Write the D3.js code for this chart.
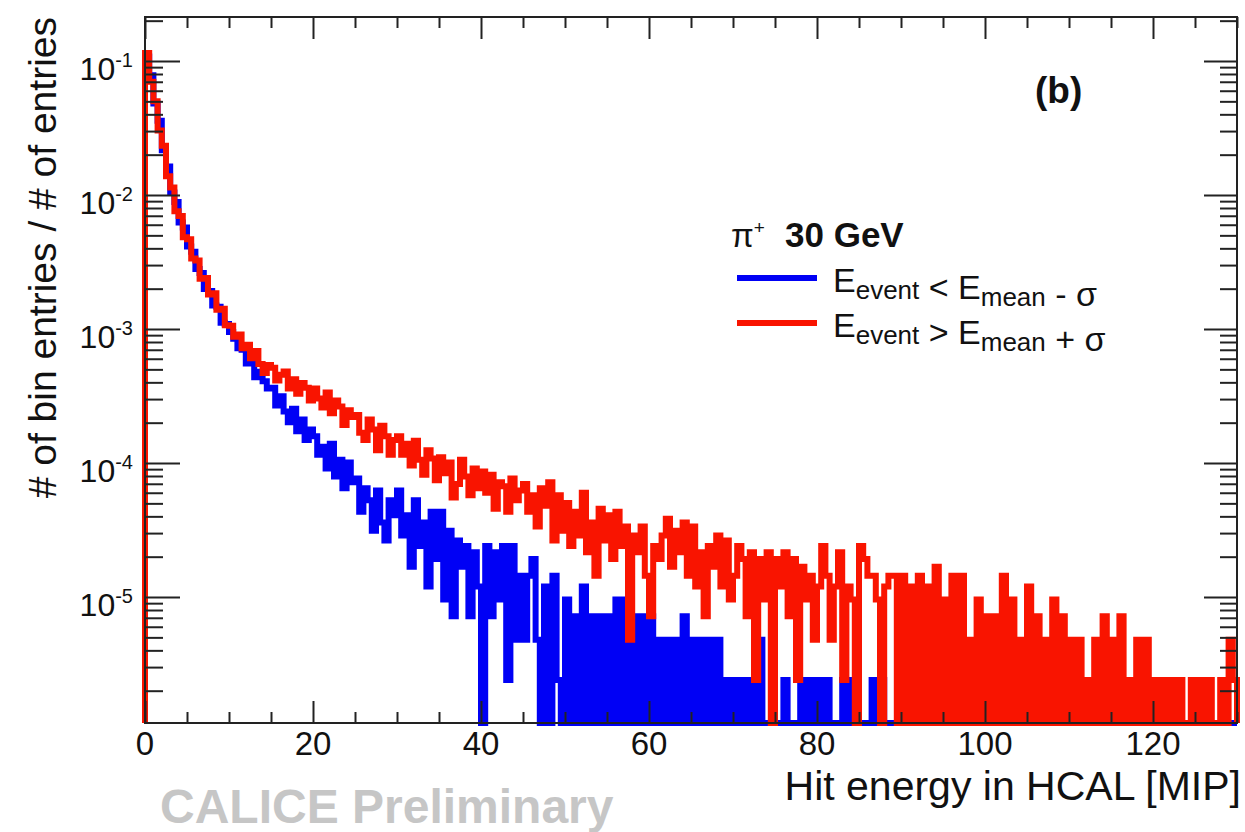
<!DOCTYPE html>
<html><head><meta charset="utf-8">
<script src="https://cdn.jsdelivr.net/npm/d3@7"></script>
<style>
body{margin:0;background:#fff}
svg{display:block}
text{font-family:"Liberation Sans",Arial,Helvetica,sans-serif;fill:#111}
</style>
</head><body>
<svg id="c" width="1245" height="832"></svg>
<script>
// ---------------- data ----------------
const binWidthMIP = 0.5;          // histogram bin width in MIP
const xRange = [0, 130];          // axis range (MIP)
const yRange = [1.148e-6, 0.213]; // axis range (fraction of entries)
const perEntry = 2.4e-6;          // weight of one entry (1 / # of entries)

// bin contents (entries per 0.5 MIP bin), E_event < E_mean - sigma
const blueCounts = [
45000,32600,20100,14900,9000,6800,4350,3700,2600,2380,
1720,1570,1170,1090,830,800,625,610,465,455,
395,352,300,292,230,248,182,200,170,150,
152,112,131,101,84,106,72,88,62,74,
66,48,55,38,58,33,44,27,42,30,
32,18,27,22,13,26,15,11,22,17,
26,12,17,7,22,10,15,5,18,8,
18,4,13,3,11,7,10,3,9,5,
0,10,3,9,4,10,1,10,2,6,
2,6,8,2,0,5,0,6,1,0,
4,0,3,0,5,0,3,0,3,0,
3,0,4,0,4,0,3,0,3,0,
3,0,2,0,2,0,2,0,3,0,
2,0,2,0,2,0,2,0,1,0,
1,0,1,0,1,0,2,0,0,0,
0,0,1,0,0,0,1,0,1,0,
1,0,1,0,0,0,1,0,1,0,
0,0,0,1,0,1,0,0,0,0,
0,0,0,0,0,0,0,0,0,0,
0,0,0,0,0,0,0,0,0,0,
0,0,0,0,0,0,0,0,0,0,
0,0,0,0,0,0,0,0,0,0,
0,0,0,0,0,0,0,0,0,0,
0,0,0,0,0,0,0,0,0,0,
0,0,0,0,0,0,0,0,0,0,
0,0,0,0,0,0,0,0,0,0
];
// bin contents, E_event > E_mean + sigma
const redCounts = [
47900,29200,20900,12600,9700,5750,4750,3150,2900,2020,
1950,1400,1350,990,1000,755,770,580,590,445,
440,365,380,300,318,252,285,228,196,225,
214,172,190,201,150,176,137,165,152,122,
150,126,108,140,98,122,110,80,103,92,
95,70,62,88,74,52,79,66,48,62,
66,48,58,40,61,44,34,52,45,31,
46,35,42,23,29,44,33,24,38,27,
36,25,34,19,30,28,18,32,22,26,
29,18,24,14,27,20,30,11,24,13,
21,10,18,12,25,9,15,6,19,11,
17,8,18,10,14,2,12,9,14,6,
3,10,8,12,16,7,13,9,15,6,
14,5,9,3,10,7,12,5,11,4,
6,10,8,3,9,1,8,4,9,0,
8,5,9,3,8,1,7,4,6,2,
5,10,6,2,5,9,1,5,4,0,
10,8,6,6,4,0,5,6,6,0,
6,0,5,0,6,0,5,0,7,0,
4,0,6,0,6,0,2,0,4,0,
3,0,3,0,6,0,4,0,2,0,
5,0,3,0,2,0,4,0,3,0,
2,0,2,0,1,0,2,0,3,0,
2,0,3,0,1,0,2,0,2,0,
1,0,1,0,1,0,1,0,0,1,
0,1,0,1,0,0,1,0,2,1
];

const xMajorTicks = [0, 20, 40, 60, 80, 100, 120];
const xMinorStep = 5;
const yDecades = [1e-5, 1e-4, 1e-3, 1e-2, 1e-1];
const yDecadeExponents = ["-5", "-4", "-3", "-2", "-1"];
const seriesNames = ["E_event < E_mean - \u03c3", "E_event > E_mean + \u03c3"];
const seriesColors = ["#0000f5", "#f91400"];

// ---------------- drawing ----------------
const svg = d3.select("#c");
const L = 145, R = 1237, T = 17, B = 723;
const x = d3.scaleLinear().domain(xRange).range([L, R]);
const y = d3.scaleLog().domain(yRange).range([B, T]);

function stepPoints(counts) {
  const pts = [[x(0), B]];
  counts.forEach((c, i) => {
    const yy = c > 0 ? y(c * perEntry) : B;
    pts.push([x(i * binWidthMIP), yy], [x((i + 1) * binWidthMIP), yy]);
  });
  pts.push([x(counts.length * binWidthMIP), B]);
  return pts;
}
const line = d3.line();

const plot = svg.append("g");
[blueCounts, redCounts].forEach((counts, k) => {
  plot.append("path")
    .attr("d", line(stepPoints(counts)))
    .attr("fill", "none")
    .attr("stroke", seriesColors[k])
    .attr("stroke-width", 6)
    .attr("stroke-linejoin", "miter")
    .attr("stroke-miterlimit", 10)
    .attr("stroke-linecap", "butt");
});

// frame
svg.append("rect").attr("x", L).attr("y", T).attr("width", R - L).attr("height", B - T)
  .attr("fill", "none").attr("stroke", "#222").attr("stroke-width", 2);

// ticks
const xMinor = d3.range(xRange[0], xRange[1] + 0.001, xMinorStep).filter(v => !xMajorTicks.includes(v));
const tickColor = "#222";
function axisG(gen, tx, ty) {
  const g = svg.append("g").attr("transform", `translate(${tx},${ty})`).call(gen);
  g.select(".domain").remove();
  g.selectAll("line").attr("stroke", tickColor).attr("stroke-width", 2);
  g.selectAll("text").remove();
  return g;
}
axisG(d3.axisBottom(x).tickValues(xMajorTicks).tickSize(-22), 0, B);
axisG(d3.axisBottom(x).tickValues(xMinor).tickSize(-11), 0, B);
axisG(d3.axisTop(x).tickValues(xMajorTicks).tickSize(-22), 0, T);
axisG(d3.axisTop(x).tickValues(xMinor).tickSize(-11), 0, T);

const yMinor = [];
for (let e = -7; e <= 0; e++) for (let m = 2; m <= 9; m++) {
  const v = m * Math.pow(10, e);
  if (v > yRange[0] && v < yRange[1]) yMinor.push(v);
}
axisG(d3.axisLeft(y).tickValues(yDecades).tickSize(-35), L, 0);
axisG(d3.axisLeft(y).tickValues(yMinor).tickSize(-18), L, 0);
axisG(d3.axisRight(y).tickValues(yDecades).tickSize(-33), R, 0);
axisG(d3.axisRight(y).tickValues(yMinor).tickSize(-17), R, 0);

// x tick labels
svg.append("g").selectAll("text").data(xMajorTicks).join("text")
  .attr("x", d => x(d)).attr("y", 755).attr("text-anchor", "middle")
  .attr("font-size", 33).text(d => d);

// y tick labels 10^k
const yl = svg.append("g").selectAll("text").data(yDecades).join("text")
  .attr("x", 133).attr("y", d => y(d) + 19).attr("text-anchor", "end")
  .attr("font-size", 32);
yl.append("tspan").text("10");
yl.append("tspan").attr("font-size", 20).attr("dy", -13).text((d, i) => yDecadeExponents[i]);

// axis titles
svg.append("text").attr("x", 1241).attr("y", 800).attr("text-anchor", "end")
  .attr("font-size", 41).text("Hit energy in HCAL [MIP]");
svg.append("text").attr("transform", "translate(56,17) rotate(-90)").attr("text-anchor", "end")
  .attr("font-size", 39).text("# of bin entries / # of entries");

// label (b)
svg.append("text").attr("x", 1035).attr("y", 103).attr("font-size", 37)
  .attr("font-weight", "bold").text("(b)");

// CALICE Preliminary
svg.append("text").attr("x", 160).attr("y", 823).attr("font-size", 48)
  .attr("font-weight", "bold").style("fill", "#c6c6c6").text("CALICE Preliminary");

// legend
const lg = svg.append("g");
const head = lg.append("text").attr("x", 731).attr("y", 247).attr("font-size", 33);
head.append("tspan").text("\u03c0");
head.append("tspan").attr("font-size", 19).attr("dy", -13).text("+");
head.append("tspan").attr("x", 785).attr("dy", 13).attr("font-weight", "bold").attr("font-size", 35).text("30 GeV");

const rowsY = [278, 323];
seriesNames.forEach((name, k) => {
  lg.append("line").attr("x1", 737).attr("x2", 817).attr("y1", rowsY[k]).attr("y2", rowsY[k])
    .attr("stroke", seriesColors[k]).attr("stroke-width", 6);
  const parts = name.split(" ");
  const t = lg.append("text").attr("x", 833).attr("y", rowsY[k] + 14).attr("font-size", 34);
  const sub = (s) => {
    const [a, b] = s.split("_");
    t.append("tspan").text(a);
    t.append("tspan").attr("font-size", 26).attr("dy", 7).text(b);
    t.append("tspan").attr("dy", -7).text("");
  };
  sub(parts[0]);
  t.append("tspan").text(" " + parts[1] + " ");
  sub(parts[2]);
  t.append("tspan").text(" " + parts[3] + " " + parts[4]);
});
</script>
</body></html>
